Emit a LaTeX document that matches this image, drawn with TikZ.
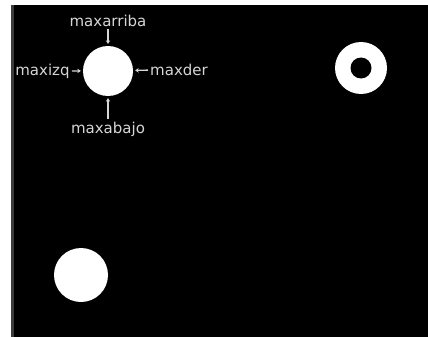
\documentclass[tikz,border=0pt]{standalone}
\usepackage{fontspec}
\setmainfont{DejaVu Sans}
\usetikzlibrary{arrows.meta,positioning}
\definecolor{Frame}{HTML}{3C3C3C}
\definecolor{Label}{HTML}{D6D6D6}

\begin{document}
\begin{tikzpicture}[x=1pt,y=-1pt,
    blob/.style={circle,fill=white,draw=none,inner sep=0pt},
    tag/.style={text=Label,font=\fontsize{15}{17}\selectfont,inner sep=1pt,anchor=base},
    pointer/.style={Label,line width=1.3pt,shorten >=2pt,shorten <=1pt,-{Stealth[length=3.5pt,width=4.5pt]}}]
    \useasboundingbox (0,0) rectangle (428,337);
    \fill[white] (0,0) rectangle (428,337);
    \fill[black] (11,5) rectangle (428,337);
    \fill[Frame] (11,5) rectangle (13.5,337);
    % the three regions
    \node[blob,minimum size=50pt] (disco) at (108,71) {};
    \node[blob,minimum size=52pt] (anillo) at (361,68) {};
    \node[circle,fill=black,inner sep=0pt,minimum size=21pt] (hueco) at (anillo) {};
    \node[blob,minimum size=54pt] (mancha) at (81,275) {};
    % extreme points of the disc
    \node[tag] (arriba) at (108,27) {maxarriba};
    \node[tag] (izq) at (42.5,75) {maxizq};
    \node[tag] (der) at (179,75) {maxder};
    \node[tag] (abajo) at (108,133) {maxabajo};
    \foreach \x in {arriba,izq,der,abajo}{
      \draw[pointer] (\x) -- (disco);
    }
  \end{tikzpicture}
\end{document}
